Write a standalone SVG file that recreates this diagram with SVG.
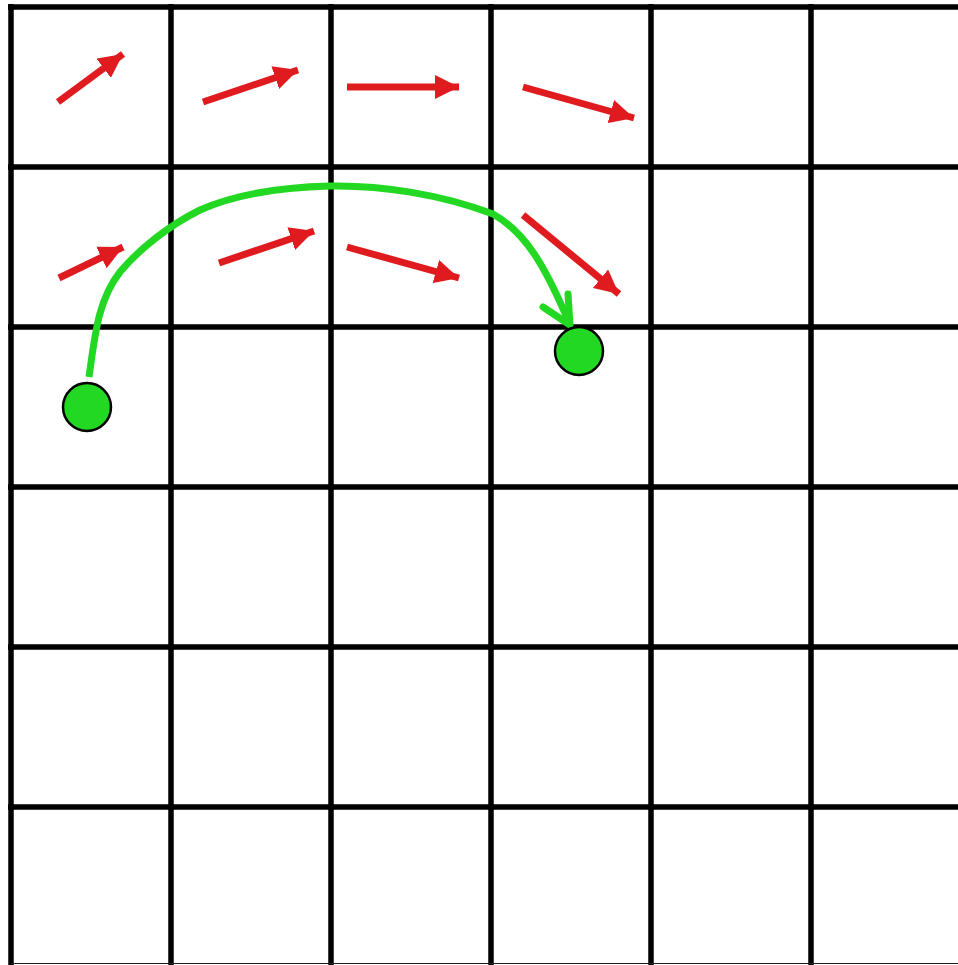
<svg xmlns="http://www.w3.org/2000/svg" width="958" height="965" viewBox="0 0 958 965">
<defs>
<style>
.grid{stroke:#000;stroke-width:5.5;fill:none}
.vec{stroke:#e01b1f;stroke-width:7;fill:none}
.head{fill:#e01b1f}
.path{stroke:#22d822;stroke-width:7;fill:none;stroke-linecap:round;stroke-linejoin:round}
.node{fill:#22d822;stroke:#000;stroke-width:2.5}
</style>
<marker id="ah" viewBox="0 0 24 24" refX="24" refY="12" markerWidth="24" markerHeight="24" markerUnits="userSpaceOnUse" orient="auto">
<path d="M0,0 L24,12 L0,24 Z" class="head"/>
</marker>
</defs>
<rect width="958" height="965" fill="#fff"/>
<g id="grid">
<line class="grid" x1="11" y1="4" x2="11" y2="965"/>
<line class="grid" x1="171" y1="4" x2="171" y2="965"/>
<line class="grid" x1="331" y1="4" x2="331" y2="965"/>
<line class="grid" x1="491" y1="4" x2="491" y2="965"/>
<line class="grid" x1="651" y1="4" x2="651" y2="965"/>
<line class="grid" x1="811" y1="4" x2="811" y2="965"/>
<line class="grid" x1="8" y1="7" x2="958" y2="7"/>
<line class="grid" x1="8" y1="167" x2="958" y2="167"/>
<line class="grid" x1="8" y1="327" x2="958" y2="327"/>
<line class="grid" x1="8" y1="487" x2="958" y2="487"/>
<line class="grid" x1="8" y1="647" x2="958" y2="647"/>
<line class="grid" x1="8" y1="807" x2="958" y2="807"/>
<line x1="11" y1="963.5" x2="958" y2="963.5" stroke="#222" stroke-width="1"/>
</g>
<g id="vectors">
<line class="vec" x1="58" y1="102" x2="123" y2="54" marker-end="url(#ah)"/>
<line class="vec" x1="203" y1="102" x2="298" y2="70" marker-end="url(#ah)"/>
<line class="vec" x1="347" y1="87" x2="459" y2="87" marker-end="url(#ah)"/>
<line class="vec" x1="523" y1="87" x2="634" y2="118" marker-end="url(#ah)"/>
<line class="vec" x1="59" y1="278" x2="123" y2="247" marker-end="url(#ah)"/>
<line class="vec" x1="219" y1="263" x2="314" y2="231" marker-end="url(#ah)"/>
<line class="vec" x1="347" y1="247" x2="459" y2="278" marker-end="url(#ah)"/>
<line class="vec" x1="523" y1="215" x2="619" y2="294" marker-end="url(#ah)"/>
</g>
<g id="connectors">
<path class="path" d="M89,377 C95,335 98,300 120,272 C140,248 170,225 200,210 C240,192 290,187 330,186 C380,185 440,194 493,214 C525,232 545,265 570,325" style="stroke-linecap:butt"/>
<polyline class="path" points="543,307 570,325 568,294"/>
</g>
<g id="start"><circle class="node" cx="87" cy="407" r="24"/></g>
<g id="end"><circle class="node" cx="579" cy="351" r="24"/></g>
</svg>
